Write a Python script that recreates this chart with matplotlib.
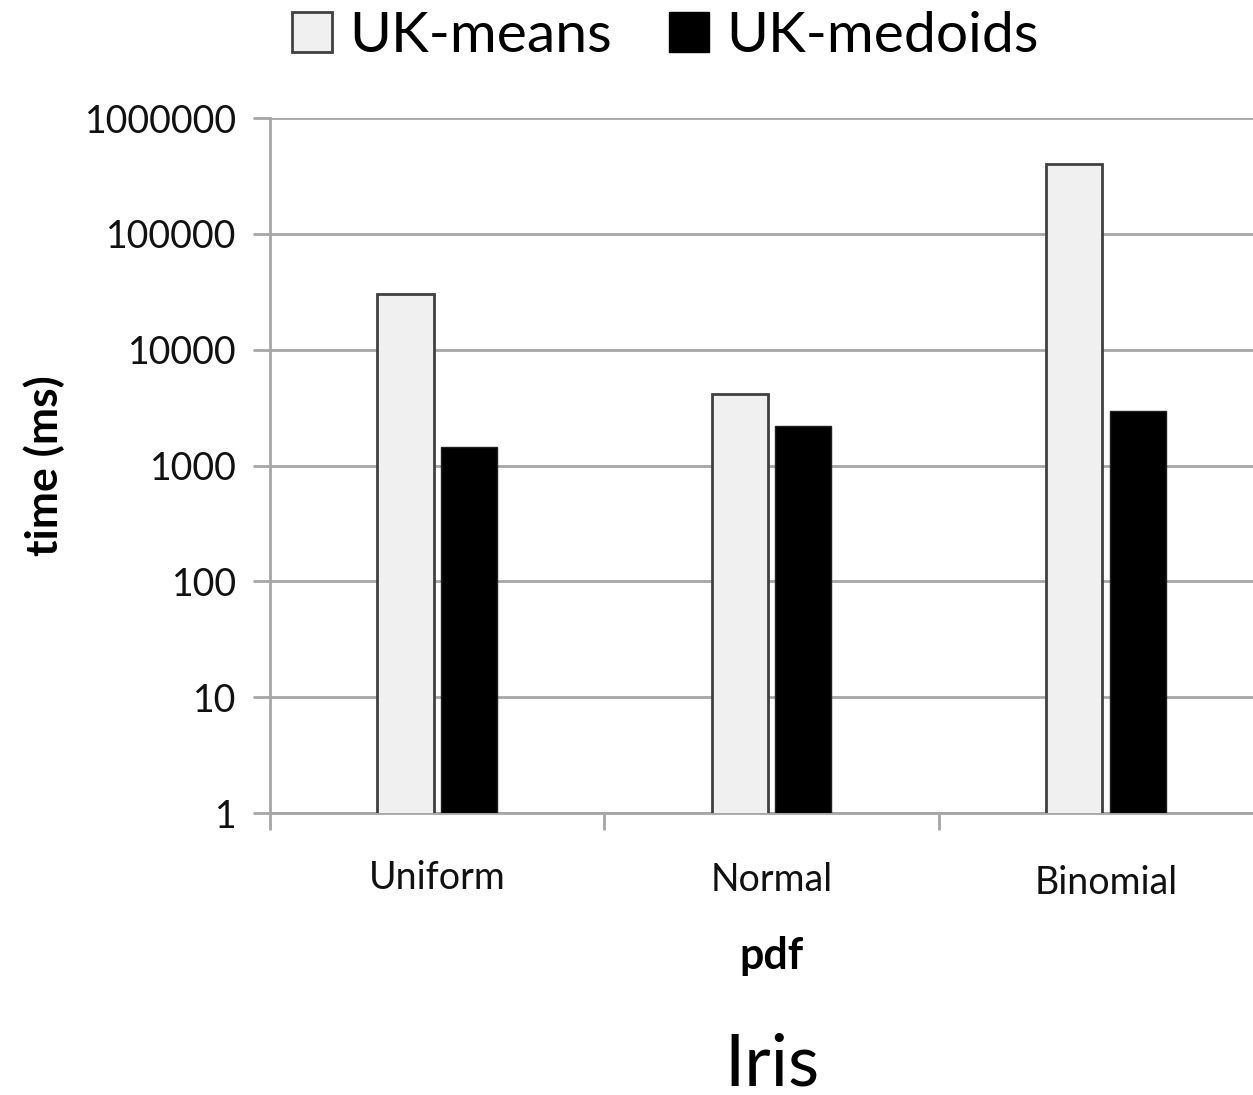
import numpy as np
import matplotlib
matplotlib.use('Agg')
import matplotlib.pyplot as plt
from matplotlib.patches import Patch

plt.rcParams['font.family'] = ['Lato', 'DejaVu Sans']

# running time per pdf, in ms
pdfs = ['Uniform', 'Normal', 'Binomial']
uk_means = [30000, 4150, 400000]
uk_medoids = [1450, 2200, 2950]
y_ticks = [1, 10, 100, 1000, 10000, 100000, 1000000]

fig = plt.figure(figsize=(12.53, 10.95), dpi=100)
ax = fig.add_axes([0.2155, 0.2575, 0.8005, 0.6347])

x = np.arange(len(pdfs))
w = 0.168
off = 0.095
grid_col = '#a6a6a6'

ax.bar(x - off, uk_means, w, color='#f0f0f0', edgecolor='#404040', linewidth=2, zorder=3)
ax.bar(x + off, uk_medoids, w, color='black', edgecolor='#202020', linewidth=1, zorder=3)

ax.set_yscale('log')
ax.set_ylim(1, 1000000)
ax.set_xlim(-0.5, 2.5)
ax.set_yticks(y_ticks)
ax.set_yticklabels([str(t) for t in y_ticks])
ax.minorticks_off()
ax.yaxis.grid(True, color=grid_col, linewidth=2, zorder=0)

ax.set_xticks([-0.5, 0.5, 1.5])
ax.set_xticklabels([])
for i, name in enumerate(pdfs):
    ax.text(i, -0.093 - 0.004 * i, name, transform=ax.get_xaxis_transform(),
            ha='center', va='center', fontsize=27, color='#111111')

for s in ['top', 'right']:
    ax.spines[s].set_visible(False)
for s in ['left', 'bottom']:
    ax.spines[s].set_color(grid_col)
    ax.spines[s].set_linewidth(2)

ax.tick_params(axis='y', length=12, width=2, color=grid_col, labelsize=27, pad=12,
               labelcolor='#111111')
ax.tick_params(axis='x', length=12, width=2, color=grid_col, direction='out')

ax.set_xlabel('pdf', fontsize=31, fontweight='bold', labelpad=73)
ax.set_ylabel('time (ms)', fontsize=32, fontweight='bold', labelpad=14)

handles = [Patch(facecolor='#f0f0f0', edgecolor='#404040', linewidth=2, label='UK-means'),
           Patch(facecolor='black', edgecolor='black', label='UK-medoids')]
fig.legend(handles=handles, loc='upper center', bbox_to_anchor=(0.531, 1.037), ncol=2,
           frameon=False, fontsize=41, handlelength=0.7, handleheight=0.7,
           handletextpad=0.3, columnspacing=1.0)

fig.text(772 / 1253, 1 - 1065 / 1095, 'Iris', ha='center', va='center', fontsize=52)

fig.savefig('out.png', dpi=100)
